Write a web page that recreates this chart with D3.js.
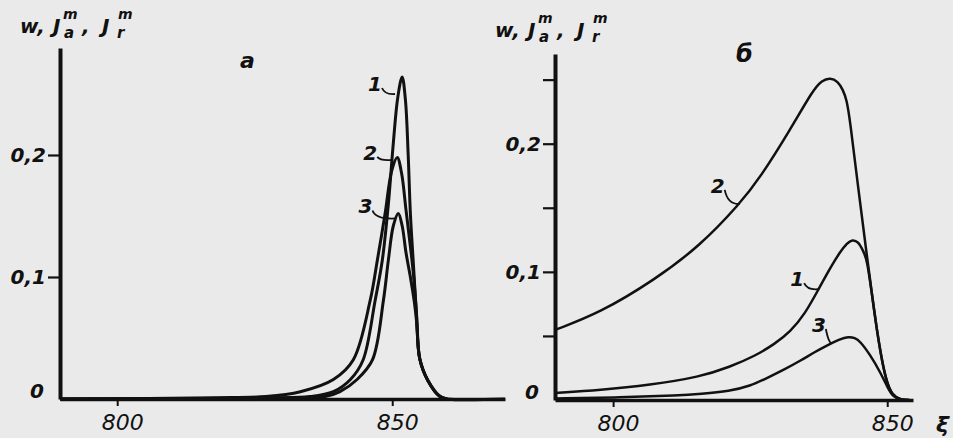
<!DOCTYPE html>
<html lang="en">
<head>
<meta charset="utf-8">
<title>w, J spectra</title>
<script src="https://d3js.org/d3.v7.min.js"></script>
<style>
  body { margin: 0; background: #eaeaea; }
  text { font-family: "DejaVu Sans", sans-serif; font-style: italic; fill: #111; }
</style>
</head>
<body>
<div id="chart"></div>
<script>
// ---- data (xi, value) ----
// panel a
let a_curve1 = [[789.6,0],[815,0.0004],[828,0.001],[835,0.002],[839.3,0.006],[842.4,0.016],[844.7,0.032],[846.9,0.081],[848.2,0.114],[849.3,0.160],[850.2,0.210],[851,0.247],[851.8,0.264],[852.4,0.245],[852.9,0.20],[853.3,0.152],[853.8,0.114],[854.4,0.07],[855,0.033],[856.5,0.015],[858.7,0.002],[860,0],[870.5,0]];
let a_curve2 = [[789.6,0],[805,0.0004],[818,0.001],[827,0.002],[833.3,0.006],[839.3,0.016],[842.9,0.032],[846.0,0.081],[847.3,0.114],[848.7,0.152],[849.9,0.187],[850.9,0.198],[851.7,0.185],[852.5,0.155],[853.3,0.125],[853.9,0.10],[854.4,0.07],[855,0.033],[856.5,0.015],[858.7,0.002],[860,0]];
let a_curve3 = [[789.6,0],[825,0.0004],[832,0.001],[837.8,0.002],[840.5,0.006],[843.6,0.016],[846.4,0.032],[848.4,0.081],[849.3,0.114],[850.2,0.142],[851.1,0.152],[851.8,0.142],[852.5,0.120],[853.3,0.10],[854.0,0.08],[854.5,0.06],[855,0.033],[856.5,0.015],[858.7,0.002],[860,0]];
// panel b
let b_curve1 = [[789.4,0.0055],[797.6,0.0078],[806.7,0.0117],[815.85,0.018],[821.3,0.0258],[825.9,0.0344],[829.5,0.0438],[832.3,0.0531],[835.0,0.0672],[837.4,0.0859],[839.6,0.1031],[841.4,0.1156],[842.7,0.1225],[843.6,0.1252],[844.7,0.1237],[845.6,0.1164],[846.3,0.110],[847.2,0.083],[848.1,0.0547],[849.1,0.029],[849.96,0.0133],[850.9,0.0039],[852.3,0.0004],[854,0]];
let b_curve2 = [[789.4,0.0547],[797.6,0.068],[807.6,0.0938],[815.85,0.1203],[823.1,0.1531],[826.8,0.1734],[832.3,0.2109],[836.5,0.2422],[838.1,0.2494],[839.6,0.2515],[841.0,0.2487],[841.9,0.2422],[842.6,0.2344],[843.2,0.2188],[844.7,0.1656],[846.3,0.112],[847.2,0.083],[848.1,0.0547],[849.1,0.029],[849.96,0.0133],[850.9,0.0039],[852.3,0.0004],[854,0]];
let b_curve3 = [[789.4,0.0012],[801.3,0.002],[812.2,0.0035],[815.85,0.0047],[821.3,0.007],[825.0,0.0109],[828.1,0.0172],[831.4,0.0242],[834.1,0.0305],[836.8,0.0375],[839.2,0.043],[841.4,0.0476],[842.9,0.0494],[844.1,0.0486],[845.0,0.0461],[846.9,0.0352],[848.7,0.0219],[850.1,0.0094],[851.1,0.0023],[852.3,0.0004],[854,0]];

let xTicks = [800, 850];
let a_yTicks = [0.1, 0.2];
let b_yTicks = [0.05, 0.1, 0.15, 0.2, 0.25];
let yLabelled = [0.1, 0.2];

// curve labels: [text, xi, value] of the point the leader touches
let a_labels = [["1", 850.5, 0.250], ["2", 850.0, 0.196], ["3", 850.6, 0.148]];
let b_labels = [["2", 823.1, 0.153], ["1", 837.4, 0.0865], ["3", 839.9, 0.0445]];

let width = 953, height = 438;
let svg = d3.select("#chart").append("svg")
    .attr("width", width).attr("height", height)
    .style("background", "#eaeaea");

// scales for both panels
let ax = d3.scaleLinear().domain([789.6, 870.5]).range([60, 505]);
let ay = d3.scaleLinear().domain([0, 0.2877]).range([399, 48]);
let bx = d3.scaleLinear().domain([789.4, 854.7]).range([555, 913]);
let by = d3.scaleLinear().domain([0, 0.270]).range([400, 54]);

let fmt = d => d3.format(".1f")(d).replace(".", ",");

function drawPanel(x, y, yTicks, curves, labels, lw, curveType, labelOffsets) {
    let g = svg.append("g");

    // x axis
    let xAxis = d3.axisBottom(x).tickValues(xTicks).tickSize(7).tickSizeOuter(0)
        .tickFormat(d3.format("d"));
    let gx = g.append("g").attr("transform", "translate(0," + y(0) + ")").call(xAxis);
    gx.select(".domain").attr("stroke", "#111").attr("stroke-width", 3.5);
    gx.selectAll(".tick line").attr("stroke", "#111").attr("stroke-width", 2);
    gx.selectAll(".tick text").attr("font-size", 22).attr("dy", "0.95em").attr("dx", 5)
        .style("font-family", "DejaVu Sans").style("font-style", "italic").attr("fill", "#111");

    // y axis
    let yAxis = d3.axisLeft(y).tickValues(yTicks).tickSize(12).tickSizeOuter(0)
        .tickFormat(d => yLabelled.includes(d) ? fmt(d) : "");
    let gy = g.append("g").attr("transform", "translate(" + x.range()[0] + ",0)").call(yAxis);
    gy.select(".domain").attr("stroke", "#111").attr("stroke-width", 4);
    gy.selectAll(".tick line").attr("stroke", "#111").attr("stroke-width", 2.2);
    gy.selectAll(".tick text").attr("font-size", 20).attr("font-weight", "bold").attr("x", -14)
        .style("font-family", "DejaVu Sans").style("font-style", "italic").attr("fill", "#111");

    // zero label
    g.append("text").attr("x", x.range()[0] - 16).attr("y", y(0) - 1)
        .attr("text-anchor", "end").attr("font-size", 20).attr("font-weight", "bold").text("0");

    // curves
    let line = d3.line().x(d => x(d[0])).y(d => y(d[1])).curve(curveType);
    curves.forEach(c => {
        g.append("path").datum(c).attr("d", line)
            .attr("fill", "none").attr("stroke", "#111").attr("stroke-width", lw)
            .attr("stroke-linejoin", "round");
    });

    // curve labels with small hooked leaders
    labels.forEach((l, i) => {
        let px = x(l[1]), py = y(l[2]);
        let off = labelOffsets[i];
        let tx = px + off[0], ty = py + off[1];
        let sx = tx + 7, sy = ty + 4;
        g.append("path")
            .attr("d", "M" + sx + "," + sy + " Q" + (sx + 3) + "," + (py + 1) + " " + px + "," + py)
            .attr("fill", "none").attr("stroke", "#111").attr("stroke-width", 1.8);
        g.append("text").attr("x", tx).attr("y", ty)
            .attr("text-anchor", "middle").attr("dominant-baseline", "central")
            .attr("font-size", 20).attr("font-weight", "bold").text(l[0]);
    });
}

drawPanel(ax, ay, a_yTicks, [a_curve1, a_curve2, a_curve3], a_labels, 3,
    d3.curveCatmullRom.alpha(0.5), [[-20, -10], [-22, -7], [-30, -12]]);
drawPanel(bx, by, b_yTicks, [b_curve1, b_curve2, b_curve3], b_labels, 2.5,
    d3.curveBasis, [[-22, -18], [-21, -10], [-13, -18]]);

// y axis titles: w, J_a^m, J_r^m
function yTitle(x0, base) {
    let t = svg.append("g").attr("font-weight", "bold");
    t.append("text").attr("x", x0).attr("y", base).attr("font-size", 20).text("w,");
    t.append("text").attr("x", x0 + 33).attr("y", base).attr("font-size", 20).text("J");
    t.append("text").attr("x", x0 + 43).attr("y", base - 14).attr("font-size", 14).text("m");
    t.append("text").attr("x", x0 + 44).attr("y", base + 5).attr("font-size", 15).text("a");
    t.append("text").attr("x", x0 + 62).attr("y", base).attr("font-size", 20).text(",");
    t.append("text").attr("x", x0 + 82).attr("y", base).attr("font-size", 20).text("J");
    t.append("text").attr("x", x0 + 98).attr("y", base - 14).attr("font-size", 14).text("m");
    t.append("text").attr("x", x0 + 97).attr("y", base + 5).attr("font-size", 15).text("r");
}
yTitle(20, 33);
yTitle(495, 37);

// panel letters and x-axis symbol
svg.append("text").attr("x", 240).attr("y", 68).attr("font-size", 22).attr("font-weight", "bold").text("а");
svg.append("text").attr("x", 736).attr("y", 62).attr("font-size", 24).attr("font-weight", "bold").text("б");
svg.append("text").attr("x", 936).attr("y", 432).attr("font-size", 22).attr("font-weight", "bold").text("ξ");
</script>
</body>
</html>
